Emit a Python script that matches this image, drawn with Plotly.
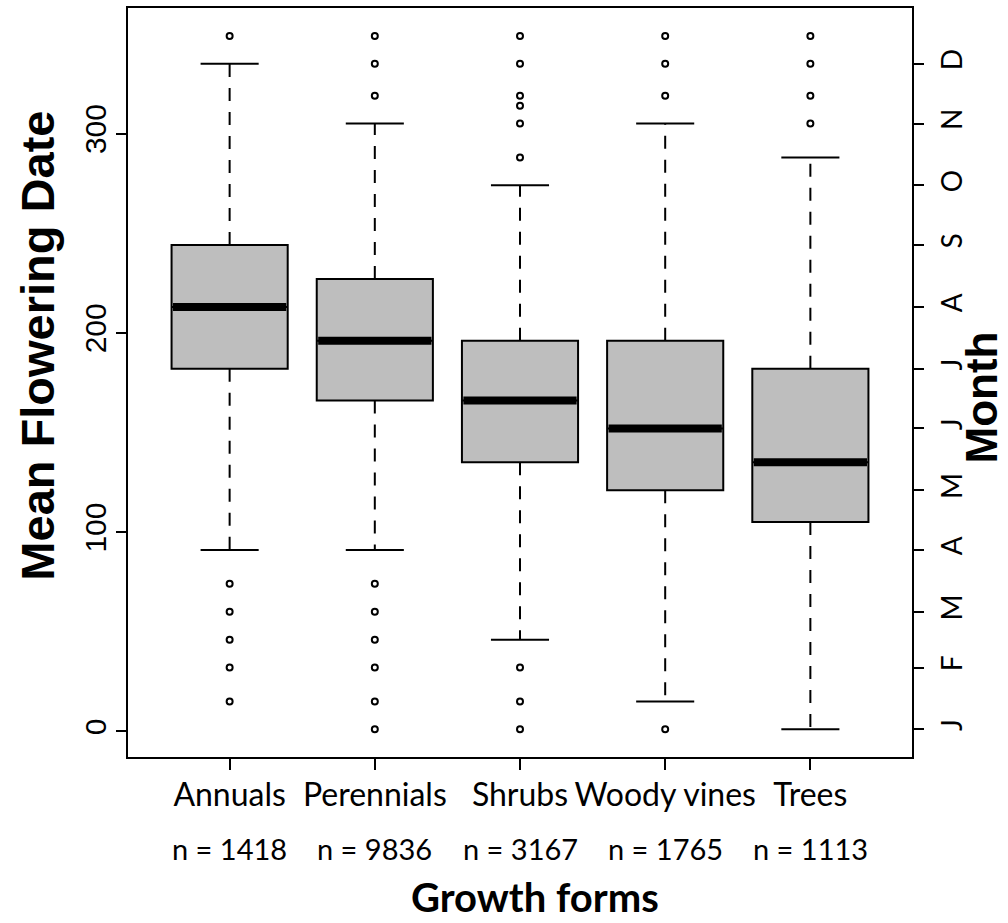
import plotly.graph_objects as go

# ---- data ----
categories = ["Annuals", "Perennials", "Shrubs", "Woody vines", "Trees"]
n_counts = [1418, 9836, 3167, 1765, 1113]
q1 = [182, 166, 135, 121, 105]
medians = [213, 196, 166, 152, 135]
q3 = [244, 227, 196, 196, 182]
upper_whisker = [335, 305, 274, 305, 288]
lower_whisker = [91, 91, 46, 15, 1]
outliers = [
    [349, 74, 60, 46, 32, 15],
    [349, 335, 319, 74, 60, 46, 32, 15, 1],
    [349, 335, 319, 314, 305, 288, 32, 15, 1],
    [349, 335, 319, 1],
    [349, 335, 319, 305],
]
month_days = [1, 32, 60, 91, 121, 152, 182, 213, 244, 274, 305, 335]
month_labels = ["J", "F", "M", "A", "M", "J", "J", "A", "S", "O", "N", "D"]
y_ticks = [0, 100, 200, 300]

# ---- styling ----
BOX_W = 0.8
CAP_HALF = 0.2
MED_HALF = 0.4
pos = list(range(1, len(categories) + 1))

fig = go.Figure()

# dashed whiskers
wx, wy = [], []
for p, lo, a, b, hi in zip(pos, lower_whisker, q1, q3, upper_whisker):
    wx += [p, p, None, p, p, None]
    wy += [b, hi, None, a, lo, None]
fig.add_trace(go.Scatter(x=wx, y=wy, mode="lines", hoverinfo="skip",
                         line=dict(color="black", width=2, dash="13px,11px"),
                         showlegend=False))

# whisker caps
cx, cy = [], []
for p, lo, hi in zip(pos, lower_whisker, upper_whisker):
    cx += [p - CAP_HALF, p + CAP_HALF, None, p - CAP_HALF, p + CAP_HALF, None]
    cy += [hi, hi, None, lo, lo, None]
fig.add_trace(go.Scatter(x=cx, y=cy, mode="lines", hoverinfo="skip",
                         line=dict(color="black", width=2), showlegend=False))

# box bodies
fig.add_trace(go.Box(x=pos, q1=q1, median=medians, q3=q3,
                     lowerfence=q1, upperfence=q3, width=BOX_W,
                     whiskerwidth=0, boxpoints=False,
                     fillcolor="#bebebe", line=dict(color="black", width=2),
                     hoverinfo="skip", showlegend=False))

# thick medians
mx, my = [], []
for p, m in zip(pos, medians):
    mx += [p - MED_HALF + 0.01, p + MED_HALF - 0.01, None]
    my += [m, m, None]
fig.add_trace(go.Scatter(x=mx, y=my, mode="lines", hoverinfo="skip",
                         line=dict(color="black", width=8), showlegend=False))

# outliers
ox, oy = [], []
for p, vals in zip(pos, outliers):
    ox += [p] * len(vals)
    oy += vals
fig.add_trace(go.Scatter(x=ox, y=oy, mode="markers", hoverinfo="skip",
                         marker=dict(symbol="circle-open", size=6, color="black",
                                     line=dict(width=2, color="black")),
                         showlegend=False))

# invisible trace to anchor right (month) axis
fig.add_trace(go.Scatter(x=[pos[0]] * len(month_days), y=month_days, yaxis="y2",
                         mode="markers", marker=dict(opacity=0), hoverinfo="skip",
                         showlegend=False))

yrange = [-12.9, 363]

fig.update_layout(
    width=1008, height=923,
    margin=dict(l=128, r=96, t=6, b=166),
    paper_bgcolor="white", plot_bgcolor="white",
    xaxis=dict(range=[0.3, 5.7], tickvals=pos, ticktext=categories,
               ticks="outside", ticklen=11, tickwidth=2, tickcolor="black",
               showline=True, linewidth=2, linecolor="black", mirror=True,
               showgrid=False, zeroline=False, ticklabelstandoff=-2,
               tickfont=dict(family="Lato", size=32, color="black")),
    yaxis=dict(range=yrange, tickvals=y_ticks, ticktext=[str(v) for v in y_ticks],
               ticks="outside", ticklen=10, tickwidth=2, tickcolor="black",
               tickangle=-90, showline=True, linewidth=2, linecolor="black",
               mirror=True, showgrid=False, zeroline=False, ticklabelstandoff=-2,
               tickfont=dict(family="Liberation Sans", size=30, color="black")),
    yaxis2=dict(range=yrange, overlaying="y", side="right", anchor="x",
                tickvals=month_days, ticktext=month_labels,
                ticks="outside", ticklen=11, tickwidth=2, tickcolor="black",
                tickangle=-90, showline=False, showgrid=False, zeroline=False,
                ticklabelstandoff=4,
                tickfont=dict(family="Lato", size=28, color="black")),
)

# n labels under categories
for p, n in zip(pos, n_counts):
    fig.add_annotation(x=p, xref="x", y=0, yref="paper", yshift=-91,
                       text=f"n = {n}", showarrow=False, yanchor="middle",
                       font=dict(family="Lato", size=29, color="black"))

fig.add_annotation(x=0.519, xref="paper", y=0, yref="paper", yshift=-140,
                   text="<b>Growth forms</b>", showarrow=False, yanchor="middle",
                   font=dict(family="Lato", size=40, color="black"))
fig.add_annotation(x=-0.115, xref="paper", y=0.549, yref="paper",
                   text="<b>Mean Flowering Date</b>", showarrow=False, textangle=-90,
                   xanchor="center", yanchor="middle",
                   font=dict(family="Liberation Sans", size=47, color="black"))
fig.add_annotation(x=1.088, xref="paper", y=0.48, yref="paper",
                   text="<b>Month</b>", showarrow=False, textangle=-90,
                   xanchor="center", yanchor="middle",
                   font=dict(family="Liberation Sans", size=44, color="black"))

fig.write_html("out.html",
               config={"displayModeBar": False},
               post_script="document.body.style.margin='0';"
                           "document.body.style.overflow='hidden';")
